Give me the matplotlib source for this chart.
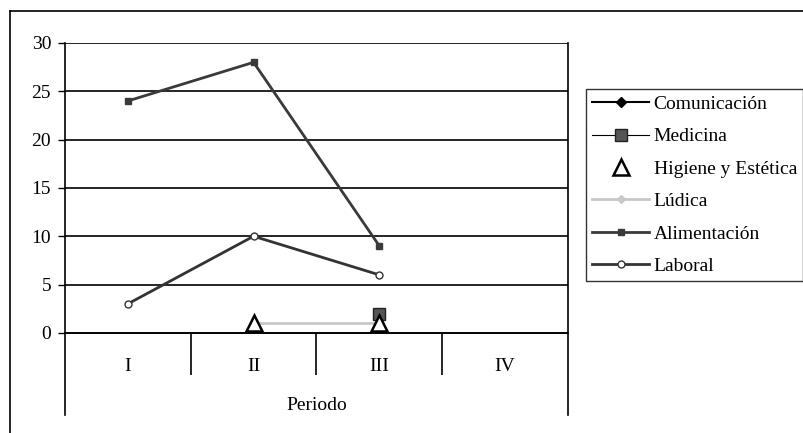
import numpy as np
import matplotlib.pyplot as plt
from matplotlib.lines import Line2D

plt.rcParams['font.family'] = ['Liberation Serif', 'DejaVu Serif']
plt.rcParams['font.size'] = 14

# data
periodos = ['I', 'II', 'III', 'IV']
comunicacion = [np.nan, np.nan, np.nan, np.nan]
medicina = [np.nan, np.nan, 2, np.nan]
higiene = [np.nan, 1, 1, np.nan]
ludica = [np.nan, 1, 1, np.nan]
alimentacion = [24, 28, 9, np.nan]
laboral = [3, 10, 6, np.nan]

x = np.arange(len(periodos))

fig = plt.figure(figsize=(8.04, 4.33), dpi=100)
ax = fig.add_axes([0.0808, 0.0416, 0.6256, 0.8591])

ax.plot(x, comunicacion, color='black', lw=1.5, marker='D', ms=5,
        label='Comunicación', zorder=3)
ax.plot(x, medicina, color='black', lw=0.8, marker='s', ms=9,
        markerfacecolor='#555555', markeredgecolor='#222222',
        label='Medicina', zorder=4)
ax.plot(x, higiene, ls='none', marker='^', ms=11,
        markerfacecolor='white', markeredgecolor='black',
        markeredgewidth=1.8, label='Higiene y Estética', zorder=5)
ax.plot(x, ludica, color='#c8c8c8', lw=2, marker='D', ms=4,
        label='Lúdica', zorder=3)
ax.plot(x, alimentacion, color='#3a3a3a', lw=2, marker='s', ms=4,
        markerfacecolor='#3a3a3a', label='Alimentación', zorder=3)
ax.plot(x, laboral, color='#333333', lw=2, marker='o', ms=5,
        markerfacecolor='white', markeredgecolor='#333333',
        label='Laboral', zorder=3)

ax.set_xlim(-0.5, len(periodos) - 0.5)
ax.set_ylim(-8.5, 30)
ax.set_yticks(range(0, 31, 5))
ax.yaxis.grid(True, color='black', lw=1.2)
ax.set_axisbelow(True)
ax.tick_params(axis='y', length=5, width=1, pad=5)

# category axis sitting at y = 0
ax.spines['top'].set_visible(False)
ax.spines['bottom'].set_position(('data', 0))
ax.spines['bottom'].set_linewidth(1.2)
ax.spines['left'].set_linewidth(1.2)
ax.spines['right'].set_linewidth(1.2)
ax.set_xticks(x)
ax.set_xticklabels(periodos)
ax.set_xticks(x[:-1] + 0.5, minor=True)
ax.tick_params(axis='x', which='major', length=0, pad=18)
ax.tick_params(axis='x', which='minor', length=30, width=1.2)
ax.set_xlabel('Periodo', labelpad=13)

leg = ax.legend(loc='upper left', bbox_to_anchor=(0.729, 0.794),
                bbox_transform=fig.transFigure, borderaxespad=0,
                frameon=True, fancybox=False, edgecolor='black',
                fontsize=14, handlelength=2.9, handletextpad=0.25,
                labelspacing=0.76, borderpad=0.32)
leg.get_frame().set_linewidth(1.0)

# outer chart border
fig.add_artist(Line2D([10 / 804, 803 / 804], [1 - 11 / 433, 1 - 11 / 433],
                      color='black', lw=1.2, transform=fig.transFigure))
fig.add_artist(Line2D([10 / 804, 10 / 804], [0, 1 - 11 / 433],
                      color='black', lw=1.2, transform=fig.transFigure))

fig.savefig('out.png', dpi=100)
